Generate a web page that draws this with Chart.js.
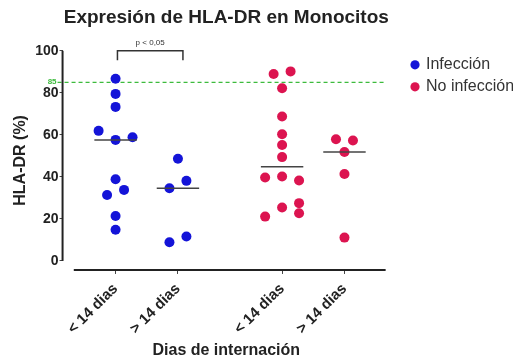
<!DOCTYPE html>
<html>
<head>
<meta charset="utf-8">
<script src="https://cdn.jsdelivr.net/npm/chart.js@4.4.0/dist/chart.umd.min.js"></script>
<style>
  html, body { margin: 0; padding: 0; background: #fff; }
</style>
</head>
<body>
<canvas id="myChart" width="513" height="356"></canvas>
<script>
// groups along the x axis
const GROUP_LABELS = ['< 14 dias', '> 14 dias', '< 14 dias', '> 14 dias'];
const GROUP_POS = [1, 2, 3.67, 4.67];
const Y_TICKS = [0, 20, 40, 60, 80, 100];
const CUTOFF = 85;

// Infección
const INF_LT14 = [86.7, 79.5, 73.3, 61.9, 58.9, 57.6, 38.9, 33.8, 31.4, 21.4, 14.8];
const INF_LT14_OFF = [0, 0, 0, -2, 2, 0, 0, 1, -1, 0, 0];
const INF_GT14 = [48.6, 38.1, 34.6, 11.6, 8.9];
const INF_GT14_OFF = [0, 1, -1, 1, -1];

// No infección
const NOINF_LT14 = [89.0, 90.2, 82.2, 68.7, 60.3, 55.2, 49.4, 40.2, 39.7, 38.3, 27.5, 25.4, 22.7, 21.1];
const NOINF_LT14_OFF = [-1, 1, 0, 0, 0, 0, 0, 0, -2, 2, 2, 0, 2, -2];
const NOINF_GT14 = [57.9, 57.3, 51.8, 41.4, 11.1];
const NOINF_GT14_OFF = [-1, 1, 0, 0, 0];

const BLUE = '#1414d8';
const RED = '#dc1450';
const JITTER = 0.136;
const HALF_MEDIAN = 0.34;
const FONT = "'Liberation Sans', Arial, sans-serif";

Chart.defaults.font.family = FONT;

function toPoints(vals, offs, pos) {
  return vals.map((v, i) => ({ x: pos + offs[i] * JITTER, y: v }));
}

function median(vals) {
  const s = vals.slice().sort((a, b) => a - b);
  const m = Math.floor(s.length / 2);
  return s.length % 2 ? s[m] : (s[m - 1] + s[m]) / 2;
}

function medianLine(vals, pos) {
  const m = median(vals);
  return {
    label: 'median',
    data: [{ x: pos - HALF_MEDIAN, y: m }, { x: pos + HALF_MEDIAN, y: m }],
    showLine: true,
    borderColor: '#444',
    borderWidth: 1.5,
    pointRadius: 0,
    order: 0
  };
}

const data = {
  datasets: [
    {
      label: 'Infección',
      data: toPoints(INF_LT14, INF_LT14_OFF, GROUP_POS[0]).concat(toPoints(INF_GT14, INF_GT14_OFF, GROUP_POS[1])),
      backgroundColor: BLUE,
      borderColor: BLUE,
      borderWidth: 0,
      pointRadius: 5,
      pointStyle: 'circle',
      order: 1
    },
    {
      label: 'No infección',
      data: toPoints(NOINF_LT14, NOINF_LT14_OFF, GROUP_POS[2]).concat(toPoints(NOINF_GT14, NOINF_GT14_OFF, GROUP_POS[3])),
      backgroundColor: RED,
      borderColor: RED,
      borderWidth: 0,
      pointRadius: 5,
      pointStyle: 'circle',
      order: 1
    },
    medianLine(INF_LT14, GROUP_POS[0]),
    medianLine(INF_GT14, GROUP_POS[1]),
    medianLine(NOINF_LT14, GROUP_POS[2]),
    medianLine(NOINF_GT14, GROUP_POS[3])
  ]
};

// axis lines, cutoff line and the p-value bracket
const extras = {
  id: 'extras',
  beforeDatasetsDraw(chart) {
    const { ctx, chartArea, scales: { x, y } } = chart;
    const yc = y.getPixelForValue(CUTOFF);
    ctx.save();
    ctx.strokeStyle = '#3dbb3d';
    ctx.lineWidth = 1.2;
    ctx.setLineDash([4, 3]);
    ctx.beginPath();
    ctx.moveTo(chartArea.left - 5, yc);
    ctx.lineTo(x.getPixelForValue(5.33), yc);
    ctx.stroke();
    ctx.setLineDash([]);
    ctx.fillStyle = '#3dbb3d';
    ctx.font = "bold 8px " + FONT;
    ctx.textAlign = 'right';
    ctx.textBaseline = 'middle';
    ctx.fillText(String(CUTOFF), chartArea.left - 6, yc - 1);
    ctx.restore();
  },
  afterDraw(chart) {
    const { ctx, chartArea, scales: { x, y } } = chart;
    ctx.save();
    ctx.strokeStyle = '#222';
    ctx.lineWidth = 2;
    // y axis
    ctx.beginPath();
    ctx.moveTo(chartArea.left, y.getPixelForValue(0));
    ctx.lineTo(chartArea.left, y.getPixelForValue(100));
    ctx.stroke();
    // x axis
    ctx.beginPath();
    ctx.moveTo(x.getPixelForValue(0.33), chartArea.bottom);
    ctx.lineTo(x.getPixelForValue(5.33), chartArea.bottom);
    ctx.stroke();
    // bracket
    const bx1 = x.getPixelForValue(GROUP_POS[0] + 0.03);
    const bx2 = x.getPixelForValue(GROUP_POS[1] + 0.08);
    const by = y.getPixelForValue(100);
    const bl = y.getPixelForValue(95.5);
    ctx.strokeStyle = '#333';
    ctx.lineWidth = 1.5;
    ctx.beginPath();
    ctx.moveTo(bx1, bl);
    ctx.lineTo(bx1, by);
    ctx.lineTo(bx2, by);
    ctx.lineTo(bx2, bl);
    ctx.stroke();
    ctx.fillStyle = '#333';
    ctx.font = "8px " + FONT;
    ctx.textAlign = 'center';
    ctx.textBaseline = 'bottom';
    ctx.fillText('p < 0,05', (bx1 + bx2) / 2, by - 4);
    ctx.restore();
  }
};

const CONFIG = {
  type: 'scatter',
  data: data,
  options: {
    responsive: false,
    animation: false,
    layout: { padding: { left: 8, right: 0, top: 0, bottom: 0 } },
    plugins: {
      title: {
        display: true,
        text: 'Expresión de HLA-DR en Monocitos',
        font: { size: 19, weight: 'bold' },
        color: '#222',
        fullSize: false,
        padding: { top: 6, bottom: 22 }
      },
      legend: {
        position: 'right',
        align: 'start',
        fullSize: false,
        maxWidth: 107,
        labels: {
          usePointStyle: true,
          pointStyle: 'circle',
          boxWidth: 6,
          boxHeight: 6.5,
          padding: 6,
          color: '#333',
          font: { size: 16 },
          filter: (item) => item.datasetIndex < 2
        }
      },
      tooltip: { enabled: false }
    },
    scales: {
      x: {
        type: 'linear',
        min: 0.15,
        max: 5.40,
        afterBuildTicks: (scale) => { scale.ticks = GROUP_POS.map(v => ({ value: v })); },
        ticks: {
          autoSkip: false,
          minRotation: 45,
          maxRotation: 45,
          padding: 6,
          color: '#222',
          font: { size: 15, weight: 'bold' },
          callback: (value, index) => GROUP_LABELS[index]
        },
        grid: { drawOnChartArea: false, drawTicks: true, tickLength: 4, color: '#444' },
        border: { display: false },
        title: {
          display: true,
          text: 'Dias de internación',
          color: '#222',
          font: { size: 16, weight: 'bold' },
          padding: { top: -3, bottom: -4 }
        }
      },
      y: {
        min: -4.3,
        max: 100,
        afterBuildTicks: (scale) => { scale.ticks = Y_TICKS.map(v => ({ value: v })); },
        ticks: {
          color: '#222',
          padding: 1,
          font: { size: 14, weight: 'bold' }
        },
        grid: { drawOnChartArea: false, drawTicks: true, tickLength: 3, color: '#444' },
        border: { display: false },
        title: {
          display: true,
          text: 'HLA-DR (%)',
          color: '#222',
          font: { size: 16, weight: 'bold' },
          padding: { top: 3, bottom: 4 }
        }
      },
      // empty spacer between the plot and the legend
      gap: {
        axis: 'y',
        position: 'right',
        ticks: { display: false },
        grid: { display: false },
        border: { display: false },
        afterFit: (scale) => { scale.width = 16; }
      }
    }
  },
  plugins: [extras]
};

const chart = new Chart(document.querySelector('#myChart'), CONFIG);
</script>
</body>
</html>
